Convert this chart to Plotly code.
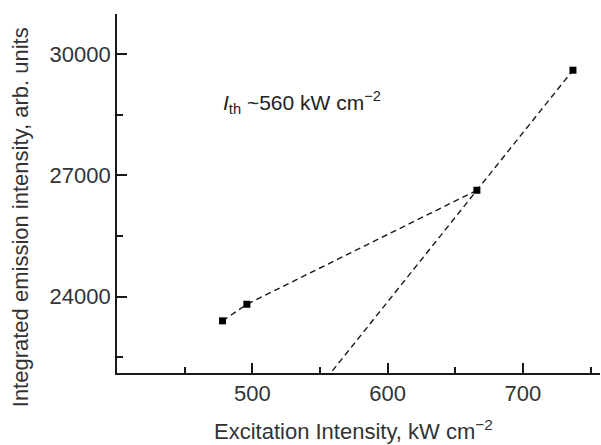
import plotly.graph_objects as go

# Measured integrated emission vs excitation intensity
excitation = [478, 496, 666, 737]
emission = [23400, 23810, 26630, 29600]

# Threshold estimate from the above-threshold fit
threshold = 560

x_ticks = [500, 600, 700]
y_ticks = [24000, 27000, 30000]

FONT = "Liberation Sans, Arial, sans-serif"
INK = "#1a1a1a"
TEXT = "#333333"
DASH = "6px,4px"

# Linear fit through the two above-threshold points, extended down past the axis
x3, x4 = excitation[2], excitation[3]
y3, y4 = emission[2], emission[3]
slope = (y4 - y3) / (x4 - x3)
x_ext = threshold - 10
fit_x = [x_ext, x4]
fit_y = [y3 + slope * (x_ext - x3), y4]

fig = go.Figure()

fig.add_trace(go.Scatter(
    x=fit_x, y=fit_y, mode="lines",
    line=dict(color=INK, width=1.4, dash=DASH),
    showlegend=False, hoverinfo="skip",
))

fig.add_trace(go.Scatter(
    x=excitation[:3], y=emission[:3], mode="lines",
    line=dict(color=INK, width=1.4, dash=DASH),
    showlegend=False, hoverinfo="skip",
))

fig.add_trace(go.Scatter(
    x=excitation, y=emission, mode="markers",
    marker=dict(symbol="square", size=7, color="#000000"),
    showlegend=False,
))

fig.add_annotation(
    x=477, y=28810, xref="x", yref="y",
    text="<i>I</i><sub>th</sub> ~560 kW cm<sup>−2</sup>",
    showarrow=False, xanchor="left", yanchor="middle",
    font=dict(family=FONT, size=21, color="#222222"),
)

# Axis titles placed as paper-anchored annotations
fig.add_annotation(
    x=0.49, y=-0.16, xref="paper", yref="paper",
    text="Excitation Intensity, kW cm<sup>−2</sup>",
    showarrow=False, xanchor="center", yanchor="middle",
    font=dict(family=FONT, size=22, color=TEXT),
)
fig.add_annotation(
    x=-0.2, y=0.435, xref="paper", yref="paper",
    text="Integrated emission intensity, arb. units",
    textangle=-90, showarrow=False, xanchor="center", yanchor="middle",
    font=dict(family=FONT, size=22, color=TEXT),
)

axis_common = dict(
    showline=True, linecolor=INK, linewidth=1.6,
    ticks="inside", ticklen=10, tickwidth=1.5, tickcolor=INK,
    showgrid=False, zeroline=False, mirror=False,
    tickfont=dict(family=FONT, size=22, color=TEXT),
)

fig.update_xaxes(
    range=[400, 757],
    tickvals=x_ticks, ticktext=[str(v) for v in x_ticks],
    minor=dict(tickvals=[450, 550, 650, 750], ticks="inside", ticklen=6,
               tickwidth=1.5, tickcolor=INK),
    **axis_common,
)
fig.update_yaxes(
    range=[22110, 30990],
    tickvals=y_ticks, ticktext=[str(v) for v in y_ticks],
    minor=dict(tickvals=[22500, 25500, 28500], ticks="inside", ticklen=6,
               tickwidth=1.5, tickcolor=INK),
    **axis_common,
)

fig.update_layout(
    width=601, height=445,
    margin=dict(l=117, r=1, t=14, b=72),
    paper_bgcolor="white", plot_bgcolor="white",
)

fig.write_html("out.html")
